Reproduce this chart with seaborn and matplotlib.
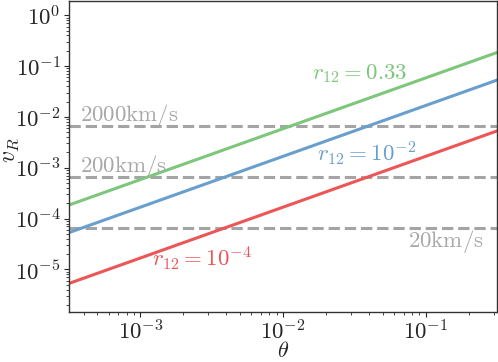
import numpy as np
import pandas as pd
import matplotlib
matplotlib.use("Agg")
import matplotlib.pyplot as plt
import seaborn as sns

# endpoints of the straight (log-log) lines
theta = [3.16e-4, 0.316]
v_small = [5.3e-6, 5.3e-3]     # r12 = 1e-4
v_mid = [5.3e-5, 5.3e-2]       # r12 = 1e-2
v_big = [1.85e-4, 0.185]       # r12 = 0.33
line_names = [r'$r_{12} = 10^{-4}$', r'$r_{12} = 10^{-2}$', r'$r_{12} = 0.33$']
line_colors = ['#ec5657', '#699fcd', '#7dc67b']

# velocity reference levels (v / c)
levels = [2000 / 3e5, 200 / 3e5, 20 / 3e5]
level_names = [r'$\mathrm{2000km/s}$', r'$\mathrm{200km/s}$', r'$\mathrm{20km/s}$']

sns.set_style("ticks")
plt.rcParams['mathtext.fontset'] = 'cm'
plt.rcParams['font.family'] = 'serif'
plt.rcParams['font.serif'] = ['cmr10', 'DejaVu Serif']
plt.rcParams['axes.formatter.use_mathtext'] = True

df = pd.concat([
    pd.DataFrame({'theta': theta, 'v': v, 'name': n})
    for v, n in zip([v_small, v_mid, v_big], line_names)
])

fig = plt.figure(figsize=(4.98, 3.62), dpi=100)
ax = fig.add_axes([0.1386, 0.138, 0.8594, 0.859])

for lv in levels:
    ax.axhline(lv, color='#a4a4a4', lw=2.2, ls='--', zorder=1)

sns.lineplot(data=df, x='theta', y='v', hue='name', palette=line_colors,
             hue_order=line_names, lw=2.2, legend=False, ax=ax, zorder=2)

ax.set_xscale('log')
ax.set_yscale('log')
ax.set_xlim(theta[0], theta[1])
ax.set_ylim(1.45e-6, 1.9)

ax.set_xlabel(r'$\theta$', fontsize=16)
ax.set_ylabel(r'$v_R$', fontsize=17)
ax.xaxis.set_label_coords(0.499, -0.094)
ax.yaxis.set_label_coords(-0.113, 0.52)
ax.tick_params(axis='both', which='major', labelsize=16.5, length=3.5, width=0.8, pad=2.5)
ax.tick_params(axis='x', which='major', pad=1.5)
ax.tick_params(axis='both', which='minor', length=2, width=0.6)
for s in ax.spines.values():
    s.set_color('#333333')
    s.set_linewidth(1.0)

# labels
gray = '#a8a8a8'
ax.text(3.8e-4, 8.3e-3, level_names[0], color=gray, fontsize=16.5, ha='left', va='baseline')
ax.text(3.8e-4, 8.3e-4, level_names[1], color=gray, fontsize=16.5, ha='left', va='baseline')
ax.text(0.257, 2.7e-5, level_names[2], color=gray, fontsize=16.5, ha='right', va='baseline')

ax.text(1.21e-3, 1.15e-5, line_names[0], color=line_colors[0], fontsize=16.5, ha='left', va='baseline')
ax.text(1.73e-2, 1.3e-3, line_names[1], color=line_colors[1], fontsize=16.5, ha='left', va='baseline')
ax.text(1.6e-2, 5.56e-2, line_names[2], color=line_colors[2], fontsize=16.5, ha='left', va='baseline')

fig.savefig('out.png', dpi=100)
